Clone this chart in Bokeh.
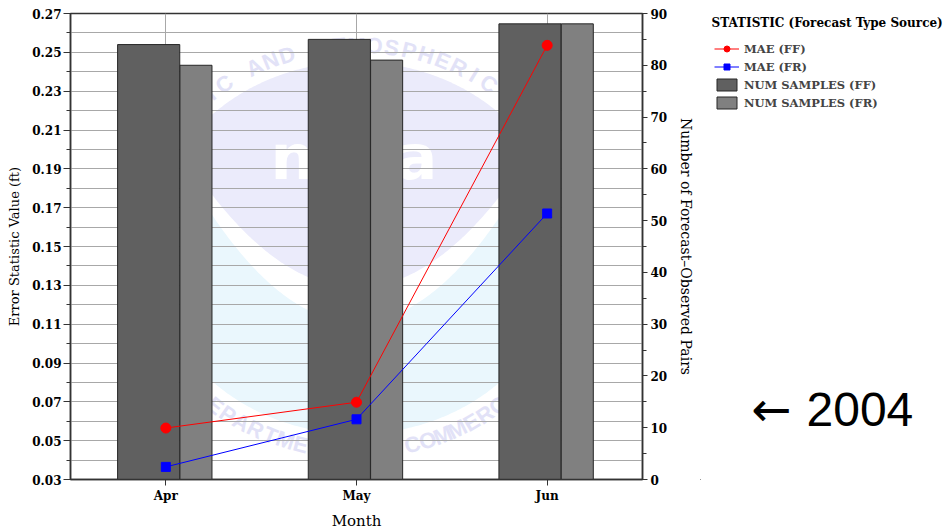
import numpy as np
from bokeh.plotting import figure
from bokeh.layouts import row
from bokeh.models import (ColumnDataSource, Range1d, FactorRange, LinearAxis, FixedTicker,
                          PrintfTickFormatter, Legend, LegendItem, Label)
from bokeh.transform import dodge
from bokeh.core.properties import value
from bokeh.embed import file_html
from bokeh.resources import INLINE

# ---- data -------------------------------------------------------------
months = ["Apr", "May", "Jun"]
mae_ff = [0.0565, 0.0698, 0.2536]      # MAE, forecast type FF (ft)
mae_fr = [0.0365, 0.0610, 0.1670]      # MAE, forecast type FR (ft)
num_ff = [84, 85, 88]                  # forecast-observed pairs, FF
num_fr = [80, 81, 88]                  # forecast-observed pairs, FR

left_ticks = [0.03, 0.05, 0.07, 0.09, 0.11, 0.13, 0.15, 0.17, 0.19, 0.21, 0.23, 0.25, 0.27]
left_minor = [0.04, 0.06, 0.08, 0.10, 0.12, 0.14, 0.16, 0.18, 0.20, 0.22, 0.24, 0.26]
right_ticks = [0, 10, 20, 30, 40, 50, 60, 70, 80, 90]
right_minor = [5, 15, 25, 35, 45, 55, 65, 75, 85]

SERIF = "DejaVu Serif"
GRID = "#a8a8a8"
AXIS = "#333333"
FF_BAR, FR_BAR, BAR_EDGE = "#606060", "#808080", "#262626"
FRAME_W = 572

src = ColumnDataSource(dict(month=months, mae_ff=mae_ff, mae_fr=mae_fr,
                            num_ff=num_ff, num_fr=num_fr))

p = figure(width=700, height=532,
           x_range=FactorRange(*months, range_padding=0),
           y_range=Range1d(left_ticks[0], left_ticks[-1]),
           output_backend="svg", toolbar_location=None,
           min_border_left=70, min_border_right=58,
           min_border_top=13, min_border_bottom=48)
p.background_fill_color = "white"
p.border_fill_color = "white"
p.outline_line_color = AXIS
p.outline_line_width = 1.5

p.extra_y_ranges = {"count": Range1d(right_ticks[0], right_ticks[-1]),
                    "wm_y": Range1d(471, 0)}

# ---- faint agency seal behind the plot ---------------------------------
# drawn in frame pixels; x converted to the categorical axis' synthetic units
def sx(px):
    return np.asarray(px, dtype=float) * len(months) / FRAME_W

cx, cy, rx, ry = 286.0, 237.0, 207.0, 188.0
xs = np.linspace(cx - rx + 0.5, cx + rx - 0.5, 240)
half = ry * np.sqrt(np.clip(1 - ((xs - cx) / rx) ** 2, 0, None))
top_e, bot_e = cy - half, cy + half
lav_lo = 277 - 0.0045 * (xs - cx) ** 2
cya_hi = 312 - 0.0052 * (xs - cx) ** 2

m = lav_lo > top_e
lx = np.concatenate([xs[m], xs[m][::-1]])
ly = np.concatenate([top_e[m], np.minimum(lav_lo, bot_e)[m][::-1]])
p.patch(sx(lx), ly, fill_color="#ebebfb", line_color=None,
        y_range_name="wm_y", level="image")

m = cya_hi < bot_e
qx = np.concatenate([xs[m], xs[m][::-1]])
qy = np.concatenate([np.maximum(cya_hi, top_e)[m], bot_e[m][::-1]])
p.patch(sx(qx), qy, fill_color="#eaf7fd", line_color=None,
        y_range_name="wm_y", level="image")

p.text(x=sx([222, 263, 305, 346]), y=[146, 146, 146, 146], text=["n", "o", "a", "a"],
       text_color="white", text_font=value("DejaVu Sans"), text_font_style="bold",
       text_font_size="62px", text_align="center", text_baseline="middle",
       y_range_name="wm_y", level="image")

def ring_text(s, centre_deg, step_deg, top):
    n = len(s)
    mid = (n - 1) / 2
    idx = np.arange(n)
    if top:
        th = np.radians(centre_deg - (idx - mid) * step_deg)
        rot = th - np.pi / 2
    else:
        th = np.radians(centre_deg + (idx - mid) * step_deg)
        rot = th + np.pi / 2
    px = cx + 225 * np.cos(th)
    py = cy - 205 * np.sin(th)
    p.text(x=sx(px), y=py, text=list(s), angle=rot, text_color="#e2e2f7",
           text_font=value("Liberation Sans"), text_font_style="bold",
           text_font_size="22px", text_align="center", text_baseline="middle",
           y_range_name="wm_y", level="image")

ring_text("NATIONAL OCEANIC AND ATMOSPHERIC ADMINISTRATION", 90, 4.5, True)
ring_text("DEPARTMENT OF COMMERCE", 270, 4.1, False)

# ---- bars: sample counts on the right axis -----------------------------
p.vbar(x=dodge("month", -0.09, range=p.x_range), top="num_ff", bottom=0,
       width=0.326, source=src, y_range_name="count",
       fill_color=FF_BAR, line_color=BAR_EDGE, line_width=1)
p.vbar(x=dodge("month", 0.158, range=p.x_range), top="num_fr", bottom=0,
       width=0.168, source=src, y_range_name="count",
       fill_color=FR_BAR, line_color=BAR_EDGE, line_width=1)

# ---- MAE lines on the left axis -----------------------------------------
p.line(x="month", y="mae_fr", source=src, line_color="#0000ff", line_width=1)
p.scatter(x="month", y="mae_fr", source=src, marker="square", size=9,
          fill_color="#0000ff", line_color="#0000ff")
p.line(x="month", y="mae_ff", source=src, line_color="#ff0000", line_width=1)
p.scatter(x="month", y="mae_ff", source=src, marker="circle", size=10,
          fill_color="#ff0000", line_color="#ff0000")

# ---- grids --------------------------------------------------------------
p.xgrid.grid_line_color = GRID
p.ygrid.grid_line_color = GRID
p.ygrid.minor_grid_line_color = GRID

# ---- axes ---------------------------------------------------------------
def style_axis(ax):
    ax.axis_line_color = AXIS
    ax.axis_line_width = 1.5
    ax.major_tick_line_color = AXIS
    ax.minor_tick_line_color = AXIS
    ax.major_tick_in = 0
    ax.minor_tick_in = 0
    ax.major_label_text_font = SERIF
    ax.major_label_text_font_style = "bold"
    ax.major_label_text_font_size = "12px"
    ax.major_label_text_color = "black"
    ax.axis_label_text_font = SERIF
    ax.axis_label_text_font_style = "normal"
    ax.axis_label_text_color = "black"

ya = p.yaxis[0]
style_axis(ya)
ya.ticker = FixedTicker(ticks=left_ticks, minor_ticks=left_minor)
ya.formatter = PrintfTickFormatter(format="%.2f")
ya.major_tick_out = 7
ya.minor_tick_out = 4
ya.major_label_standoff = 2
ya.axis_label = "Error Statistic Value (ft)"
ya.axis_label_text_font_size = "13px"
ya.axis_label_standoff = 7

xa = p.xaxis[0]
style_axis(xa)
xa.major_tick_out = 6
xa.major_label_standoff = 3
xa.axis_label = "Month"
xa.axis_label_text_font_size = "15px"
xa.axis_label_standoff = 6

ra = LinearAxis(y_range_name="count",
                ticker=FixedTicker(ticks=right_ticks, minor_ticks=right_minor),
                axis_label="Number of Forecast\u2013Observed Pairs")
style_axis(ra)
ra.major_tick_out = 5
ra.minor_tick_out = 4
ra.major_label_standoff = 3
ra.axis_label_text_font_size = "14px"
ra.axis_label_standoff = 8
p.add_layout(ra, "right")

# ---- side panel: legend and year note -------------------------------------
# its frame spans the same rows as the chart frame (13 .. 484 px)
side = figure(width=247, height=532, x_range=Range1d(0, 1), y_range=Range1d(0, 1),
              output_backend="svg", toolbar_location=None,
              min_border_left=0, min_border_right=0,
              min_border_top=13, min_border_bottom=48,
              x_axis_type=None, y_axis_type=None)
side.grid.visible = False
side.outline_line_color = None
side.background_fill_color = "white"
side.border_fill_color = "white"

# swatch renderers sit outside the visible range; only their legend glyphs show
k_ff_l = side.line([-2, -1], [-2, -1], line_color="#ff0000", line_width=1)
k_ff_s = side.scatter([-2], [-2], marker="circle", size=10,
                      fill_color="#ff0000", line_color="#ff0000")
k_fr_l = side.line([-2, -1], [-2, -1], line_color="#0000ff", line_width=1)
k_fr_s = side.scatter([-2], [-2], marker="square", size=9,
                      fill_color="#0000ff", line_color="#0000ff")
k_nff = side.vbar(x=[-2], top=[-1], width=0.1, fill_color=FF_BAR,
                  line_color=BAR_EDGE, line_width=1)
k_nfr = side.vbar(x=[-2], top=[-1], width=0.1, fill_color=FR_BAR,
                  line_color=BAR_EDGE, line_width=1)

legend = Legend(items=[
    LegendItem(label="MAE (FF)", renderers=[k_ff_l, k_ff_s]),
    LegendItem(label="MAE (FR)", renderers=[k_fr_l, k_fr_s]),
    LegendItem(label="NUM SAMPLES (FF)", renderers=[k_nff]),
    LegendItem(label="NUM SAMPLES (FR)", renderers=[k_nfr]),
], location=(14, 369))
legend.border_line_color = None
legend.background_fill_alpha = 0
legend.label_text_font = SERIF
legend.label_text_font_style = "bold"
legend.label_text_font_size = "11.5px"
legend.glyph_width = 25
legend.glyph_height = 15
legend.label_height = 15
legend.spacing = 3
legend.label_standoff = 5
legend.padding = 3
legend.margin = 0
side.add_layout(legend)

side.add_layout(Label(x=11, y=457, x_units="screen", y_units="screen",
                      text="STATISTIC (Forecast Type Source)", text_font=SERIF,
                      text_font_style="bold", text_font_size="12px",
                      text_baseline="middle", text_color="black"))

side.add_layout(Label(x=51, y=71, x_units="screen", y_units="screen",
                      text="\u2190", text_font="DejaVu Sans",
                      text_font_size="48px", text_baseline="middle",
                      text_color="black"))
side.add_layout(Label(x=106, y=70, x_units="screen", y_units="screen",
                      text="2004", text_font="Liberation Sans",
                      text_font_size="48px", text_baseline="middle",
                      text_color="black"))

layout = row(p, side, spacing=0)
open("out.html", "w").write(file_html(layout, INLINE))
